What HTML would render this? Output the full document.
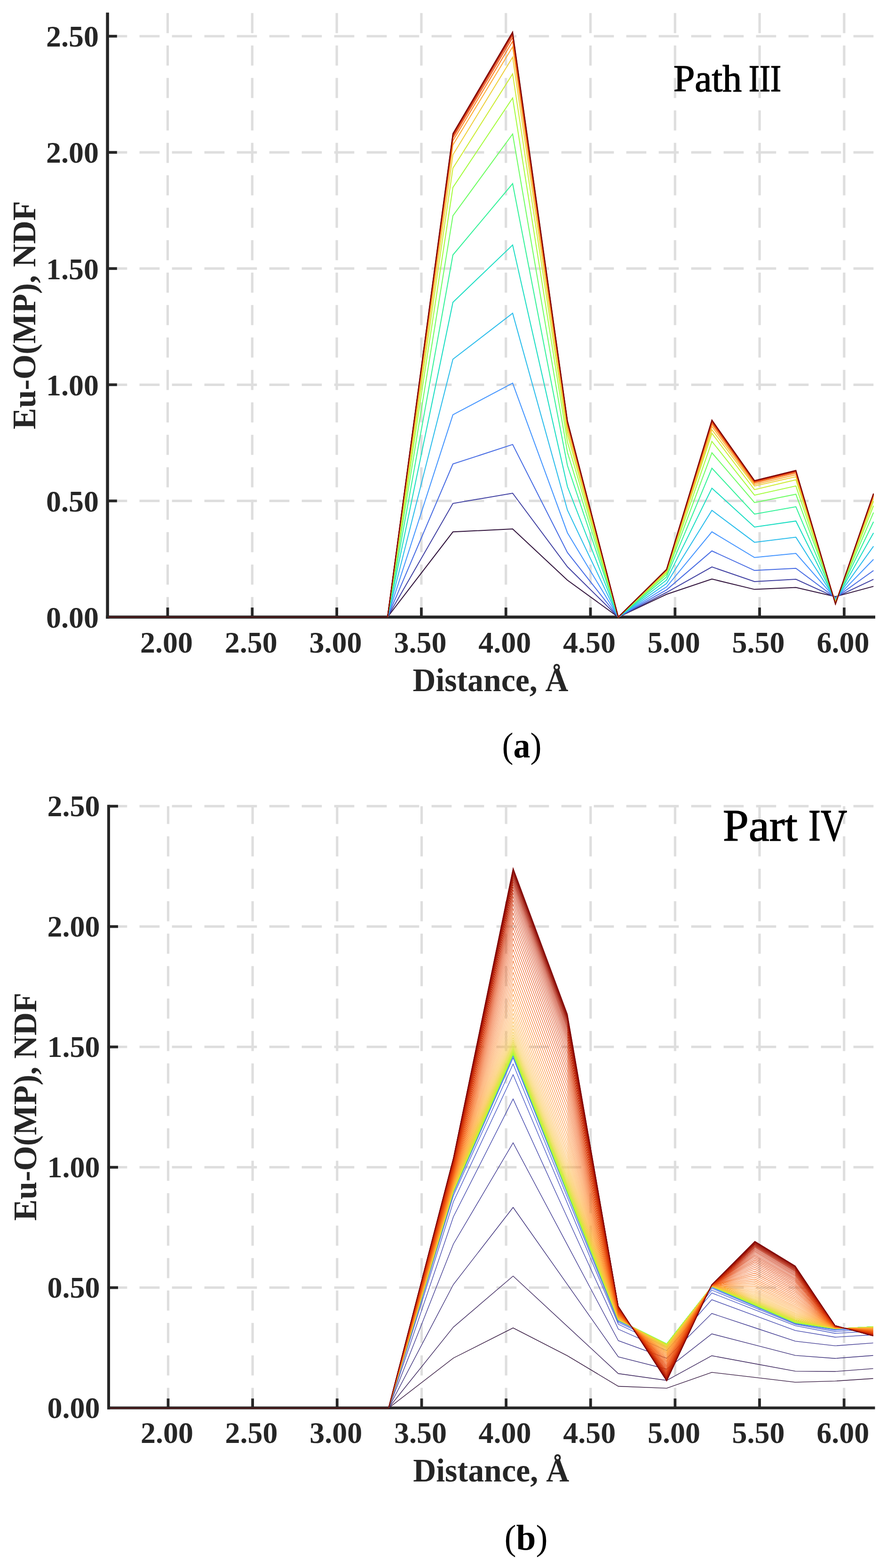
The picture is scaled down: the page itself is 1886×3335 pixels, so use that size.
<!DOCTYPE html>
<html><head><meta charset="utf-8"><title>Eu-O(MP) NDF</title><style>html,body{margin:0;padding:0;background:#fff;}svg{display:block;}</style></head><body>
<svg xmlns="http://www.w3.org/2000/svg" width="1886" height="3335" viewBox="0 0 1886 3335">
<rect x="0" y="0" width="1886" height="3335" fill="#ffffff"/>
<g stroke="#dedede" stroke-width="5.2" stroke-dasharray="42.7 26.3" fill="none"><line x1="356.5" y1="1312.4" x2="356.5" y2="27.0"/><line x1="536.3" y1="1312.4" x2="536.3" y2="27.0"/><line x1="716.1" y1="1312.4" x2="716.1" y2="27.0"/><line x1="895.9" y1="1312.4" x2="895.9" y2="27.0"/><line x1="1075.7" y1="1312.4" x2="1075.7" y2="27.0"/><line x1="1255.5" y1="1312.4" x2="1255.5" y2="27.0"/><line x1="1435.3" y1="1312.4" x2="1435.3" y2="27.0"/><line x1="1615.1" y1="1312.4" x2="1615.1" y2="27.0"/><line x1="1794.9" y1="1312.4" x2="1794.9" y2="27.0"/><line x1="227.6" y1="1065.4" x2="1858.0" y2="1065.4"/><line x1="227.6" y1="818.3" x2="1858.0" y2="818.3"/><line x1="227.6" y1="571.2" x2="1858.0" y2="571.2"/><line x1="227.6" y1="324.1" x2="1858.0" y2="324.1"/><line x1="227.6" y1="77.0" x2="1858.0" y2="77.0"/></g>
<g stroke="#262626" stroke-width="6.5" fill="none"><line x1="228.6" y1="26.8" x2="228.6" y2="1315.7"/><line x1="225.3" y1="1312.4" x2="1861.0" y2="1312.4"/><line x1="356.5" y1="1312.4" x2="356.5" y2="1292.2" stroke-width="5.8"/><line x1="536.3" y1="1312.4" x2="536.3" y2="1292.2" stroke-width="5.8"/><line x1="716.1" y1="1312.4" x2="716.1" y2="1292.2" stroke-width="5.8"/><line x1="895.9" y1="1312.4" x2="895.9" y2="1292.2" stroke-width="5.8"/><line x1="1075.7" y1="1312.4" x2="1075.7" y2="1292.2" stroke-width="5.8"/><line x1="1255.5" y1="1312.4" x2="1255.5" y2="1292.2" stroke-width="5.8"/><line x1="1435.3" y1="1312.4" x2="1435.3" y2="1292.2" stroke-width="5.8"/><line x1="1615.1" y1="1312.4" x2="1615.1" y2="1292.2" stroke-width="5.8"/><line x1="1794.9" y1="1312.4" x2="1794.9" y2="1292.2" stroke-width="5.8"/><line x1="228.6" y1="1065.4" x2="248.8" y2="1065.4" stroke-width="5.8"/><line x1="228.6" y1="818.3" x2="248.8" y2="818.3" stroke-width="5.8"/><line x1="228.6" y1="571.2" x2="248.8" y2="571.2" stroke-width="5.8"/><line x1="228.6" y1="324.1" x2="248.8" y2="324.1" stroke-width="5.8"/><line x1="228.6" y1="77.0" x2="248.8" y2="77.0" stroke-width="5.8"/></g>
<g font-family="Liberation Serif, serif" font-weight="bold" font-size="64" fill="#262626"><text x="210.0" y="1334.8" text-anchor="end">0.00</text><text x="210.0" y="1087.7" text-anchor="end">0.50</text><text x="210.0" y="840.6" text-anchor="end">1.00</text><text x="210.0" y="593.5" text-anchor="end">1.50</text><text x="210.0" y="346.4" text-anchor="end">2.00</text><text x="210.0" y="99.3" text-anchor="end">2.50</text><text x="354.0" y="1388.0" text-anchor="middle">2.00</text><text x="533.8" y="1388.0" text-anchor="middle">2.50</text><text x="713.6" y="1388.0" text-anchor="middle">3.00</text><text x="893.4" y="1388.0" text-anchor="middle">3.50</text><text x="1073.2" y="1388.0" text-anchor="middle">4.00</text><text x="1253.0" y="1388.0" text-anchor="middle">4.50</text><text x="1432.8" y="1388.0" text-anchor="middle">5.00</text><text x="1612.6" y="1388.0" text-anchor="middle">5.50</text><text x="1792.4" y="1388.0" text-anchor="middle">6.00</text></g>
<text x="1043.0" y="1470.0" text-anchor="middle" font-family="Liberation Serif, serif" font-weight="bold" font-size="69" fill="#262626" textLength="331.0" lengthAdjust="spacingAndGlyphs">Distance, Å</text>
<text transform="translate(74.6,670.4) rotate(-90)" x="0" y="0" text-anchor="middle" font-family="Liberation Serif, serif" font-weight="bold" font-size="69" fill="#262626" textLength="485.5" lengthAdjust="spacingAndGlyphs">Eu-O(MP), NDF</text>
<g fill="none" stroke-width="2.0" stroke-linejoin="miter" stroke-miterlimit="10"><path d="M231.5,1312.5 L824.0,1312.5 L963.0,1131.3 L1090.0,1125.0 L1206.5,1234.0 L1314.6,1312.5 L1417.3,1264.0 L1513.7,1231.6 L1604.3,1253.6 L1692.3,1249.6 L1776.4,1269.0 L1857.3,1247.1" stroke="#30123b"/><path d="M231.5,1312.5 L824.0,1312.5 L963.0,1070.8 L1090.0,1049.0 L1206.5,1205.5 L1314.6,1312.5 L1417.3,1260.0 L1513.7,1205.8 L1604.3,1236.9 L1692.3,1232.0 L1776.4,1270.4 L1857.3,1232.2" stroke="#4040a2"/><path d="M231.5,1312.5 L824.0,1312.5 L963.0,986.9 L1090.0,945.4 L1206.5,1175.1 L1314.6,1312.5 L1417.3,1254.6 L1513.7,1171.8 L1604.3,1213.3 L1692.3,1208.8 L1776.4,1271.5 L1857.3,1213.5" stroke="#466be3"/><path d="M231.5,1312.5 L824.0,1312.5 L963.0,882.2 L1090.0,814.9 L1206.5,1133.2 L1314.6,1312.5 L1417.3,1248.3 L1513.7,1131.1 L1604.3,1185.8 L1692.3,1177.0 L1776.4,1273.0 L1857.3,1189.8" stroke="#4294ff"/><path d="M231.5,1312.5 L824.0,1312.5 L963.0,764.0 L1090.0,666.3 L1206.5,1085.0 L1314.6,1312.5 L1417.3,1241.1 L1513.7,1085.4 L1604.3,1153.4 L1692.3,1142.6 L1776.4,1275.0 L1857.3,1161.8" stroke="#28bceb"/><path d="M231.5,1312.5 L824.0,1312.5 L963.0,643.0 L1090.0,521.1 L1206.5,1035.0 L1314.6,1312.5 L1417.3,1233.7 L1513.7,1038.3 L1604.3,1121.0 L1692.3,1108.2 L1776.4,1277.0 L1857.3,1133.4" stroke="#18ddc2"/><path d="M231.5,1312.5 L824.0,1312.5 L963.0,542.3 L1090.0,390.5 L1206.5,990.0 L1314.6,1312.5 L1417.3,1227.1 L1513.7,995.8 L1604.3,1093.5 L1692.3,1077.8 L1776.4,1278.0 L1857.3,1109.7" stroke="#32f298"/><path d="M231.5,1312.5 L824.0,1312.5 L963.0,458.8 L1090.0,285.0 L1206.5,962.0 L1314.6,1312.5 L1417.3,1221.9 L1513.7,963.0 L1604.3,1068.9 L1692.3,1051.2 L1776.4,1279.5 L1857.3,1090.1" stroke="#6dfe62"/><path d="M231.5,1312.5 L824.0,1312.5 L963.0,398.6 L1090.0,208.4 L1206.5,940.0 L1314.6,1312.5 L1417.3,1218.1 L1513.7,938.7 L1604.3,1053.2 L1692.3,1033.6 L1776.4,1280.5 L1857.3,1075.7" stroke="#a4fc3c"/><path d="M231.5,1312.5 L824.0,1312.5 L963.0,357.7 L1090.0,157.1 L1206.5,924.0 L1314.6,1312.5 L1417.3,1215.4 L1513.7,921.7 L1604.3,1041.4 L1692.3,1020.5 L1776.4,1281.5 L1857.3,1066.0" stroke="#cdec34"/><path d="M231.5,1312.5 L824.0,1312.5 L963.0,329.3 L1090.0,121.7 L1206.5,914.0 L1314.6,1312.5 L1417.3,1214.2 L1513.7,914.0 L1604.3,1033.7 L1692.3,1013.9 L1776.4,1282.0 L1857.3,1060.0" stroke="#eecf3a"/><path d="M231.5,1312.5 L824.0,1312.5 L963.0,308.4 L1090.0,99.7 L1206.5,906.0 L1314.6,1312.5 L1417.3,1213.1 L1513.7,907.0 L1604.3,1030.4 L1692.3,1009.8 L1776.4,1283.0 L1857.3,1056.0" stroke="#fdac34"/><path d="M231.5,1312.5 L824.0,1312.5 L963.0,299.3 L1090.0,87.8 L1206.5,901.9 L1314.6,1312.5 L1417.3,1212.3 L1513.7,901.9 L1604.3,1027.3 L1692.3,1006.3 L1776.4,1283.7 L1857.3,1053.6" stroke="#fb7e21"/><path d="M231.5,1312.5 L824.0,1312.5 L963.0,293.2 L1090.0,79.7 L1206.5,899.1 L1314.6,1312.5 L1417.3,1211.8 L1513.7,898.4 L1604.3,1025.2 L1692.3,1003.9 L1776.4,1284.1 L1857.3,1052.0" stroke="#eb500e"/><path d="M231.5,1312.5 L824.0,1312.5 L963.0,289.0 L1090.0,74.2 L1206.5,897.2 L1314.6,1312.5 L1417.3,1211.4 L1513.7,896.0 L1604.3,1023.7 L1692.3,1002.3 L1776.4,1284.4 L1857.3,1050.9" stroke="#d02f05"/><path d="M231.5,1312.5 L824.0,1312.5 L963.0,286.1 L1090.0,70.4 L1206.5,895.9 L1314.6,1312.5 L1417.3,1211.2 L1513.7,894.4 L1604.3,1022.8 L1692.3,1001.2 L1776.4,1284.7 L1857.3,1050.1" stroke="#a91601"/><path d="M231.5,1312.5 L824.0,1312.5 L963.0,284.2 L1090.0,67.9 L1206.5,895.0 L1314.6,1312.5 L1417.3,1211.0 L1513.7,893.3 L1604.3,1022.1 L1692.3,1000.5 L1776.4,1284.8 L1857.3,1049.6" stroke="#7a0403"/></g>
<g stroke="#dedede" stroke-width="5.2" stroke-dasharray="42.7 26.3" fill="none"><line x1="357.5" y1="2994.5" x2="357.5" y2="1714.7"/><line x1="537.1" y1="2994.5" x2="537.1" y2="1714.7"/><line x1="716.8" y1="2994.5" x2="716.8" y2="1714.7"/><line x1="896.5" y1="2994.5" x2="896.5" y2="1714.7"/><line x1="1076.1" y1="2994.5" x2="1076.1" y2="1714.7"/><line x1="1255.8" y1="2994.5" x2="1255.8" y2="1714.7"/><line x1="1435.4" y1="2994.5" x2="1435.4" y2="1714.7"/><line x1="1615.0" y1="2994.5" x2="1615.0" y2="1714.7"/><line x1="1794.7" y1="2994.5" x2="1794.7" y2="1714.7"/><line x1="227.6" y1="2738.7" x2="1858.0" y2="2738.7"/><line x1="227.6" y1="2482.7" x2="1858.0" y2="2482.7"/><line x1="227.6" y1="2226.7" x2="1858.0" y2="2226.7"/><line x1="227.6" y1="1970.7" x2="1858.0" y2="1970.7"/><line x1="227.6" y1="1714.7" x2="1858.0" y2="1714.7"/></g>
<g stroke="#262626" stroke-width="6.0" fill="none"><line x1="231.0" y1="1711.8" x2="231.0" y2="2997.5"/><line x1="228.0" y1="2994.5" x2="1860.5" y2="2994.5"/><line x1="357.5" y1="2994.5" x2="357.5" y2="2974.5" stroke-width="5.8"/><line x1="537.1" y1="2994.5" x2="537.1" y2="2974.5" stroke-width="5.8"/><line x1="716.8" y1="2994.5" x2="716.8" y2="2974.5" stroke-width="5.8"/><line x1="896.5" y1="2994.5" x2="896.5" y2="2974.5" stroke-width="5.8"/><line x1="1076.1" y1="2994.5" x2="1076.1" y2="2974.5" stroke-width="5.8"/><line x1="1255.8" y1="2994.5" x2="1255.8" y2="2974.5" stroke-width="5.8"/><line x1="1435.4" y1="2994.5" x2="1435.4" y2="2974.5" stroke-width="5.8"/><line x1="1615.0" y1="2994.5" x2="1615.0" y2="2974.5" stroke-width="5.8"/><line x1="1794.7" y1="2994.5" x2="1794.7" y2="2974.5" stroke-width="5.8"/><line x1="231.0" y1="2738.7" x2="251.0" y2="2738.7" stroke-width="5.8"/><line x1="231.0" y1="2482.7" x2="251.0" y2="2482.7" stroke-width="5.8"/><line x1="231.0" y1="2226.7" x2="251.0" y2="2226.7" stroke-width="5.8"/><line x1="231.0" y1="1970.7" x2="251.0" y2="1970.7" stroke-width="5.8"/><line x1="231.0" y1="1714.7" x2="251.0" y2="1714.7" stroke-width="5.8"/></g>
<g font-family="Liberation Serif, serif" font-weight="bold" font-size="64" fill="#262626"><text x="212.5" y="3015.7" text-anchor="end">0.00</text><text x="212.5" y="2759.7" text-anchor="end">0.50</text><text x="212.5" y="2503.7" text-anchor="end">1.00</text><text x="212.5" y="2247.7" text-anchor="end">1.50</text><text x="212.5" y="1991.7" text-anchor="end">2.00</text><text x="212.5" y="1735.7" text-anchor="end">2.50</text><text x="355.0" y="3069.0" text-anchor="middle">2.00</text><text x="534.6" y="3069.0" text-anchor="middle">2.50</text><text x="714.3" y="3069.0" text-anchor="middle">3.00</text><text x="894.0" y="3069.0" text-anchor="middle">3.50</text><text x="1073.6" y="3069.0" text-anchor="middle">4.00</text><text x="1253.2" y="3069.0" text-anchor="middle">4.50</text><text x="1432.9" y="3069.0" text-anchor="middle">5.00</text><text x="1612.5" y="3069.0" text-anchor="middle">5.50</text><text x="1792.2" y="3069.0" text-anchor="middle">6.00</text></g>
<text x="1044.2" y="3150.5" text-anchor="middle" font-family="Liberation Serif, serif" font-weight="bold" font-size="69" fill="#262626" textLength="332.0" lengthAdjust="spacingAndGlyphs">Distance, Å</text>
<text transform="translate(77.2,2354.0) rotate(-90)" x="0" y="0" text-anchor="middle" font-family="Liberation Serif, serif" font-weight="bold" font-size="69" fill="#262626" textLength="485.0" lengthAdjust="spacingAndGlyphs">Eu-O(MP), NDF</text>
<g fill="none" stroke-width="1.35" stroke-linejoin="miter" stroke-miterlimit="10"><path d="M234.0,2995.0 L826.0,2995.0 L964.0,2888.5 L1091.0,2824.3 L1206.5,2883.6 L1314.7,2948.5 L1417.6,2952.6 L1513.5,2918.9 L1605.0,2929.7 L1691.0,2939.8 L1775.7,2937.4 L1856.6,2932.0" stroke="#30123b"/><path d="M234.0,2995.0 L826.0,2995.0 L964.0,2822.7 L1091.0,2714.1 L1206.5,2821.2 L1314.7,2921.5 L1417.6,2936.0 L1513.5,2883.5 L1605.0,2900.5 L1691.0,2916.4 L1775.7,2917.0 L1856.6,2910.8" stroke="#351e58"/><path d="M234.0,2995.0 L826.0,2995.0 L964.0,2732.0 L1091.0,2568.0 L1206.5,2732.1 L1314.7,2885.8 L1417.6,2912.0 L1513.5,2837.0 L1605.0,2860.6 L1691.0,2882.8 L1775.7,2889.2 L1856.6,2883.0" stroke="#3a2d79"/><path d="M234.0,2995.0 L826.0,2995.0 L964.0,2646.0 L1091.0,2430.6 L1206.5,2647.9 L1314.7,2851.5 L1417.6,2889.0 L1513.5,2793.6 L1605.0,2824.0 L1691.0,2852.6 L1775.7,2862.4 L1856.6,2856.4" stroke="#3e3891"/><path d="M234.0,2995.0 L826.0,2995.0 L964.0,2588.0 L1091.0,2337.4 L1206.5,2590.2 L1314.7,2827.0 L1417.6,2872.5 L1513.5,2764.4 L1605.0,2798.2 L1691.0,2829.9 L1775.7,2844.0 L1856.6,2839.0" stroke="#4146ac"/><path d="M234.0,2995.0 L826.0,2995.0 L964.0,2556.0 L1091.0,2285.7 L1206.5,2559.8 L1314.7,2816.5 L1417.6,2865.0 L1513.5,2750.0 L1605.0,2785.9 L1691.0,2819.6 L1775.7,2836.0 L1856.6,2831.0" stroke="#4454c3"/><path d="M234.0,2995.0 L826.0,2995.0 L964.0,2543.0 L1091.0,2263.0 L1206.5,2546.7 L1314.7,2812.5 L1417.6,2861.0 L1513.5,2744.0 L1605.0,2781.4 L1691.0,2816.5 L1775.7,2832.0 L1856.6,2827.0" stroke="#455ed3"/><path d="M234.0,2995.0 L826.0,2995.0 L964.0,2538.0 L1091.0,2250.0 L1206.5,2539.1 L1314.7,2810.0 L1417.6,2860.0 L1513.5,2740.0 L1605.0,2778.7 L1691.0,2815.0 L1775.7,2829.0 L1856.6,2825.0" stroke="#466be3"/><path d="M234.0,2995.0 L826.0,2995.0 L964.0,2536.0 L1091.0,2246.0 L1206.5,2537.1 L1314.7,2808.8 L1417.6,2859.2 L1513.5,2738.0 L1605.0,2777.3 L1691.0,2814.2 L1775.7,2827.5 L1856.6,2823.5" stroke="#4778f0"/><path d="M234.0,2995.0 L826.0,2995.0 L964.0,2535.0 L1091.0,2244.0 L1206.5,2536.0 L1314.7,2808.1 L1417.6,2858.7 L1513.5,2737.0 L1605.0,2776.6 L1691.0,2813.8 L1775.7,2826.8 L1856.6,2822.8" stroke="#4687fb"/><path d="M234.0,2995.0 L826.0,2995.0 L964.0,2534.5 L1091.0,2243.0 L1206.5,2535.5 L1314.7,2807.8 L1417.6,2858.5 L1513.5,2736.5 L1605.0,2776.2 L1691.0,2813.6 L1775.7,2826.4 L1856.6,2822.4" stroke="#4294ff"/><path d="M234.0,2995.0 L826.0,2995.0 L964.0,2534.2 L1091.0,2242.5 L1206.5,2535.3 L1314.7,2807.7 L1417.6,2858.4 L1513.5,2736.2 L1605.0,2776.1 L1691.0,2813.5 L1775.7,2826.2 L1856.6,2822.2" stroke="#3aa3fc"/><path d="M234.0,2995.0 L826.0,2995.0 L964.0,2534.1 L1091.0,2242.2 L1206.5,2535.1 L1314.7,2807.6 L1417.6,2858.4 L1513.5,2736.1 L1605.0,2776.0 L1691.0,2813.5 L1775.7,2826.1 L1856.6,2822.1" stroke="#2fb2f4"/><path d="M234.0,2995.0 L826.0,2995.0 L964.0,2534.1 L1091.0,2242.1 L1206.5,2535.1 L1314.7,2807.5 L1417.6,2858.3 L1513.5,2736.1 L1605.0,2775.9 L1691.0,2813.4 L1775.7,2826.0 L1856.6,2822.0" stroke="#25c0e7"/><path d="M234.0,2995.0 L826.0,2995.0 L964.0,2534.0 L1091.0,2242.1 L1206.5,2535.0 L1314.7,2807.5 L1417.6,2858.3 L1513.5,2736.0 L1605.0,2775.9 L1691.0,2813.4 L1775.7,2826.0 L1856.6,2822.0" stroke="#1ccdd8"/><path d="M234.0,2995.0 L826.0,2995.0 L964.0,2534.0 L1091.0,2242.0 L1206.5,2535.0 L1314.7,2807.5 L1417.6,2858.3 L1513.5,2736.0 L1605.0,2775.9 L1691.0,2813.4 L1775.7,2826.0 L1856.6,2822.0" stroke="#18d9c8"/><path d="M234.0,2995.0 L826.0,2995.0 L964.0,2534.0 L1091.0,2242.0 L1206.5,2535.0 L1314.7,2807.5 L1417.6,2858.3 L1513.5,2736.0 L1605.0,2775.9 L1691.0,2813.4 L1775.7,2826.0 L1856.6,2822.0" stroke="#19e3b9"/><path d="M234.0,2995.0 L826.0,2995.0 L964.0,2534.0 L1091.0,2242.0 L1206.5,2535.0 L1314.7,2807.5 L1417.6,2858.3 L1513.5,2736.0 L1605.0,2775.9 L1691.0,2813.4 L1775.7,2826.0 L1856.6,2822.0" stroke="#22ebaa"/><path d="M234.0,2995.0 L826.0,2995.0 L964.0,2534.0 L1091.0,2242.0 L1206.5,2535.0 L1314.7,2807.5 L1417.6,2858.3 L1513.5,2736.0 L1605.0,2775.9 L1691.0,2813.4 L1775.7,2826.0 L1856.6,2822.0" stroke="#32f298"/><path d="M234.0,2995.0 L826.0,2995.0 L964.0,2534.0 L1091.0,2242.0 L1206.5,2535.0 L1314.7,2807.5 L1417.6,2858.3 L1513.5,2736.0 L1605.0,2775.9 L1691.0,2813.4 L1775.7,2826.0 L1856.6,2822.0" stroke="#43f787"/><path d="M234.0,2995.0 L826.0,2995.0 L964.0,2534.0 L1091.0,2242.0 L1206.5,2535.0 L1314.7,2807.5 L1417.6,2858.3 L1513.5,2736.0 L1605.0,2775.9 L1691.0,2813.4 L1775.7,2826.0 L1856.6,2822.0" stroke="#59fb73"/><path d="M234.0,2995.0 L826.0,2995.0 L964.0,2534.0 L1091.0,2242.0 L1206.5,2535.0 L1314.7,2807.5 L1417.6,2858.3 L1513.5,2736.0 L1605.0,2775.9 L1691.0,2813.4 L1775.7,2826.0 L1856.6,2822.0" stroke="#71fe5f"/><path d="M234.0,2995.0 L826.0,2995.0 L964.0,2534.0 L1091.0,2242.0 L1206.5,2535.0 L1314.7,2807.5 L1417.6,2858.3 L1513.5,2736.0 L1605.0,2775.9 L1691.0,2813.4 L1775.7,2826.0 L1856.6,2822.0" stroke="#88ff4e"/><path d="M234.0,2995.0 L826.0,2995.0 L964.0,2534.0 L1091.0,2242.0 L1206.5,2535.0 L1314.7,2807.5 L1417.6,2858.3 L1513.5,2736.0 L1605.0,2775.9 L1691.0,2813.4 L1775.7,2826.0 L1856.6,2822.0" stroke="#9cfe40"/><path d="M234.0,2995.0 L826.0,2995.0 L964.0,2533.6 L1091.0,2240.0 L1206.5,2533.1 L1314.7,2807.4 L1417.6,2858.7 L1513.5,2736.0 L1605.0,2775.2 L1691.0,2812.8 L1775.7,2826.0 L1856.6,2822.1" stroke="#b1f936" stroke-width="1.1"/><path d="M234.0,2995.0 L826.0,2995.0 L964.0,2533.3 L1091.0,2238.0 L1206.5,2531.1 L1314.7,2807.2 L1417.6,2859.1 L1513.5,2736.0 L1605.0,2774.5 L1691.0,2812.2 L1775.7,2825.9 L1856.6,2822.2" stroke="#b9f635" stroke-width="1.1"/><path d="M234.0,2995.0 L826.0,2995.0 L964.0,2532.9 L1091.0,2235.8 L1206.5,2529.1 L1314.7,2807.0 L1417.6,2859.5 L1513.5,2735.9 L1605.0,2773.8 L1691.0,2811.5 L1775.7,2825.9 L1856.6,2822.3" stroke="#c3f134" stroke-width="1.1"/><path d="M234.0,2995.0 L826.0,2995.0 L964.0,2532.4 L1091.0,2233.4 L1206.5,2526.8 L1314.7,2806.9 L1417.6,2860.0 L1513.5,2735.9 L1605.0,2772.9 L1691.0,2810.8 L1775.7,2825.9 L1856.6,2822.4" stroke="#cbed34" stroke-width="1.1"/><path d="M234.0,2995.0 L826.0,2995.0 L964.0,2532.0 L1091.0,2230.8 L1206.5,2524.3 L1314.7,2806.7 L1417.6,2860.5 L1513.5,2735.9 L1605.0,2772.1 L1691.0,2810.0 L1775.7,2825.8 L1856.6,2822.6" stroke="#d2e935" stroke-width="1.1"/><path d="M234.0,2995.0 L826.0,2995.0 L964.0,2531.5 L1091.0,2227.9 L1206.5,2521.5 L1314.7,2806.4 L1417.6,2861.1 L1513.5,2735.9 L1605.0,2771.0 L1691.0,2809.1 L1775.7,2825.8 L1856.6,2822.7" stroke="#d9e436" stroke-width="1.1"/><path d="M234.0,2995.0 L826.0,2995.0 L964.0,2530.9 L1091.0,2224.6 L1206.5,2518.4 L1314.7,2806.2 L1417.6,2861.8 L1513.5,2735.8 L1605.0,2769.9 L1691.0,2808.1 L1775.7,2825.7 L1856.6,2822.9" stroke="#dfdf37" stroke-width="1.1"/><path d="M234.0,2995.0 L826.0,2995.0 L964.0,2530.2 L1091.0,2220.9 L1206.5,2514.9 L1314.7,2805.9 L1417.6,2862.5 L1513.5,2735.8 L1605.0,2768.7 L1691.0,2807.0 L1775.7,2825.6 L1856.6,2823.0" stroke="#e3db38" stroke-width="1.1"/><path d="M234.0,2995.0 L826.0,2995.0 L964.0,2529.5 L1091.0,2216.8 L1206.5,2510.9 L1314.7,2805.6 L1417.6,2863.4 L1513.5,2735.8 L1605.0,2767.2 L1691.0,2805.7 L1775.7,2825.6 L1856.6,2823.2" stroke="#e9d539" stroke-width="1.1"/><path d="M234.0,2995.0 L826.0,2995.0 L964.0,2528.6 L1091.0,2212.2 L1206.5,2506.5 L1314.7,2805.3 L1417.6,2864.3 L1513.5,2735.7 L1605.0,2765.7 L1691.0,2804.3 L1775.7,2825.5 L1856.6,2823.5" stroke="#eecf3a" stroke-width="1.1"/><path d="M234.0,2995.0 L826.0,2995.0 L964.0,2527.7 L1091.0,2207.0 L1206.5,2501.6 L1314.7,2804.9 L1417.6,2865.3 L1513.5,2735.7 L1605.0,2763.9 L1691.0,2802.7 L1775.7,2825.4 L1856.6,2823.7" stroke="#f1cb3a" stroke-width="1.1"/><path d="M234.0,2995.0 L826.0,2995.0 L964.0,2526.7 L1091.0,2201.4 L1206.5,2496.2 L1314.7,2804.5 L1417.6,2866.4 L1513.5,2735.6 L1605.0,2762.0 L1691.0,2801.0 L1775.7,2825.3 L1856.6,2824.0" stroke="#f5c53a" stroke-width="1.1"/><path d="M234.0,2995.0 L826.0,2995.0 L964.0,2525.6 L1091.0,2195.2 L1206.5,2490.3 L1314.7,2804.0 L1417.6,2867.7 L1513.5,2735.6 L1605.0,2759.8 L1691.0,2799.1 L1775.7,2825.2 L1856.6,2824.3" stroke="#f7c13a" stroke-width="1.1"/><path d="M234.0,2995.0 L826.0,2995.0 L964.0,2524.3 L1091.0,2188.4 L1206.5,2483.8 L1314.7,2803.5 L1417.6,2869.0 L1513.5,2735.5 L1605.0,2757.5 L1691.0,2797.0 L1775.7,2825.1 L1856.6,2824.7" stroke="#faba39" stroke-width="1.1"/><path d="M234.0,2995.0 L826.0,2995.0 L964.0,2523.0 L1091.0,2181.0 L1206.5,2476.8 L1314.7,2803.0 L1417.6,2870.5 L1513.5,2735.4 L1605.0,2755.0 L1691.0,2794.8 L1775.7,2825.0 L1856.6,2825.0" stroke="#fbb637" stroke-width="1.1"/><path d="M234.0,2995.0 L826.0,2995.0 L964.0,2521.6 L1091.0,2173.1 L1206.5,2469.2 L1314.7,2802.4 L1417.6,2872.1 L1513.5,2735.3 L1605.0,2752.3 L1691.0,2792.4 L1775.7,2824.8 L1856.6,2825.4" stroke="#fcb136" stroke-width="1.1"/><path d="M234.0,2995.0 L826.0,2995.0 L964.0,2520.0 L1091.0,2164.6 L1206.5,2461.1 L1314.7,2801.7 L1417.6,2873.8 L1513.5,2735.3 L1605.0,2749.3 L1691.0,2789.8 L1775.7,2824.7 L1856.6,2825.8" stroke="#fea933" stroke-width="1.1"/><path d="M234.0,2995.0 L826.0,2995.0 L964.0,2518.4 L1091.0,2155.6 L1206.5,2452.5 L1314.7,2801.1 L1417.6,2875.6 L1513.5,2735.2 L1605.0,2746.2 L1691.0,2787.0 L1775.7,2824.5 L1856.6,2826.3" stroke="#fea431" stroke-width="1.1"/><path d="M234.0,2995.0 L826.0,2995.0 L964.0,2516.7 L1091.0,2146.1 L1206.5,2443.4 L1314.7,2800.4 L1417.6,2877.5 L1513.5,2735.1 L1605.0,2743.0 L1691.0,2784.1 L1775.7,2824.4 L1856.6,2826.7" stroke="#fe9e2f" stroke-width="1.1"/><path d="M234.0,2995.0 L826.0,2995.0 L964.0,2514.9 L1091.0,2136.0 L1206.5,2433.9 L1314.7,2799.6 L1417.6,2879.5 L1513.5,2735.0 L1605.0,2739.5 L1691.0,2781.1 L1775.7,2824.2 L1856.6,2827.2" stroke="#fe962b" stroke-width="1.1"/><path d="M234.0,2995.0 L826.0,2995.0 L964.0,2513.0 L1091.0,2125.6 L1206.5,2423.9 L1314.7,2798.8 L1417.6,2881.6 L1513.5,2734.9 L1605.0,2735.9 L1691.0,2777.9 L1775.7,2824.0 L1856.6,2827.8" stroke="#fe9029" stroke-width="1.1"/><path d="M234.0,2995.0 L826.0,2995.0 L964.0,2511.1 L1091.0,2114.7 L1206.5,2413.5 L1314.7,2798.0 L1417.6,2883.8 L1513.5,2734.8 L1605.0,2732.2 L1691.0,2774.5 L1775.7,2823.8 L1856.6,2828.3" stroke="#fd8a26" stroke-width="1.1"/><path d="M234.0,2995.0 L826.0,2995.0 L964.0,2509.0 L1091.0,2103.5 L1206.5,2402.8 L1314.7,2797.2 L1417.6,2886.0 L1513.5,2734.7 L1605.0,2728.4 L1691.0,2771.1 L1775.7,2823.7 L1856.6,2828.9" stroke="#fc8423" stroke-width="1.1"/><path d="M234.0,2995.0 L826.0,2995.0 L964.0,2506.9 L1091.0,2092.0 L1206.5,2391.8 L1314.7,2796.3 L1417.6,2888.3 L1513.5,2734.6 L1605.0,2724.4 L1691.0,2767.6 L1775.7,2823.5 L1856.6,2829.4" stroke="#fb7e21" stroke-width="1.1"/><path d="M234.0,2995.0 L826.0,2995.0 L964.0,2504.8 L1091.0,2080.2 L1206.5,2380.6 L1314.7,2795.4 L1417.6,2890.7 L1513.5,2734.4 L1605.0,2720.4 L1691.0,2764.0 L1775.7,2823.3 L1856.6,2830.0" stroke="#f9751d" stroke-width="1.1"/><path d="M234.0,2995.0 L826.0,2995.0 L964.0,2502.7 L1091.0,2068.2 L1206.5,2369.1 L1314.7,2794.6 L1417.6,2893.1 L1513.5,2734.3 L1605.0,2716.3 L1691.0,2760.4 L1775.7,2823.1 L1856.6,2830.6" stroke="#f76f1a" stroke-width="1.1"/><path d="M234.0,2995.0 L826.0,2995.0 L964.0,2500.5 L1091.0,2056.2 L1206.5,2357.6 L1314.7,2793.7 L1417.6,2895.5 L1513.5,2734.2 L1605.0,2712.1 L1691.0,2756.7 L1775.7,2822.9 L1856.6,2831.2" stroke="#f56918" stroke-width="1.1"/><path d="M234.0,2995.0 L826.0,2995.0 L964.0,2498.3 L1091.0,2044.0 L1206.5,2346.0 L1314.7,2792.8 L1417.6,2897.9 L1513.5,2734.1 L1605.0,2707.9 L1691.0,2752.9 L1775.7,2822.7 L1856.6,2831.8" stroke="#f36315" stroke-width="1.1"/><path d="M234.0,2995.0 L826.0,2995.0 L964.0,2496.1 L1091.0,2031.8 L1206.5,2334.4 L1314.7,2791.8 L1417.6,2900.4 L1513.5,2734.0 L1605.0,2703.8 L1691.0,2749.2 L1775.7,2822.4 L1856.6,2832.4" stroke="#f15d13" stroke-width="1.1"/><path d="M234.0,2995.0 L826.0,2995.0 L964.0,2493.9 L1091.0,2019.8 L1206.5,2322.9 L1314.7,2790.9 L1417.6,2902.8 L1513.5,2733.9 L1605.0,2699.6 L1691.0,2745.5 L1775.7,2822.2 L1856.6,2833.0" stroke="#ef5811" stroke-width="1.1"/><path d="M234.0,2995.0 L826.0,2995.0 L964.0,2491.8 L1091.0,2007.8 L1206.5,2311.4 L1314.7,2790.1 L1417.6,2905.2 L1513.5,2733.8 L1605.0,2695.5 L1691.0,2741.9 L1775.7,2822.0 L1856.6,2833.6" stroke="#ec530f" stroke-width="1.1"/><path d="M234.0,2995.0 L826.0,2995.0 L964.0,2489.7 L1091.0,1996.0 L1206.5,2300.2 L1314.7,2789.2 L1417.6,2907.6 L1513.5,2733.6 L1605.0,2691.5 L1691.0,2738.3 L1775.7,2821.8 L1856.6,2834.2" stroke="#ea4e0d" stroke-width="1.1"/><path d="M234.0,2995.0 L826.0,2995.0 L964.0,2487.6 L1091.0,1984.5 L1206.5,2289.2 L1314.7,2788.3 L1417.6,2909.9 L1513.5,2733.5 L1605.0,2687.5 L1691.0,2734.8 L1775.7,2821.6 L1856.6,2834.7" stroke="#e7490c" stroke-width="1.1"/><path d="M234.0,2995.0 L826.0,2995.0 L964.0,2485.5 L1091.0,1973.3 L1206.5,2278.5 L1314.7,2787.5 L1417.6,2912.1 L1513.5,2733.4 L1605.0,2683.7 L1691.0,2731.4 L1775.7,2821.5 L1856.6,2835.3" stroke="#e4450a" stroke-width="1.1"/><path d="M234.0,2995.0 L826.0,2995.0 L964.0,2483.6 L1091.0,1962.4 L1206.5,2268.1 L1314.7,2786.7 L1417.6,2914.3 L1513.5,2733.3 L1605.0,2680.0 L1691.0,2728.0 L1775.7,2821.3 L1856.6,2835.8" stroke="#e14109" stroke-width="1.1"/><path d="M234.0,2995.0 L826.0,2995.0 L964.0,2481.7 L1091.0,1952.0 L1206.5,2258.1 L1314.7,2785.9 L1417.6,2916.4 L1513.5,2733.2 L1605.0,2676.4 L1691.0,2724.8 L1775.7,2821.1 L1856.6,2836.4" stroke="#dd3d08" stroke-width="1.1"/><path d="M234.0,2995.0 L826.0,2995.0 L964.0,2479.9 L1091.0,1941.9 L1206.5,2248.6 L1314.7,2785.1 L1417.6,2918.4 L1513.5,2733.1 L1605.0,2672.9 L1691.0,2721.8 L1775.7,2820.9 L1856.6,2836.9" stroke="#da3907" stroke-width="1.1"/><path d="M234.0,2995.0 L826.0,2995.0 L964.0,2478.2 L1091.0,1932.4 L1206.5,2239.5 L1314.7,2784.4 L1417.6,2920.3 L1513.5,2733.0 L1605.0,2669.7 L1691.0,2718.9 L1775.7,2820.8 L1856.6,2837.3" stroke="#d63506" stroke-width="1.1"/><path d="M234.0,2995.0 L826.0,2995.0 L964.0,2476.6 L1091.0,1923.4 L1206.5,2230.9 L1314.7,2783.8 L1417.6,2922.1 L1513.5,2732.9 L1605.0,2666.6 L1691.0,2716.1 L1775.7,2820.6 L1856.6,2837.8" stroke="#d23105" stroke-width="1.1"/><path d="M234.0,2995.0 L826.0,2995.0 L964.0,2475.0 L1091.0,1914.9 L1206.5,2222.8 L1314.7,2783.1 L1417.6,2923.8 L1513.5,2732.9 L1605.0,2663.6 L1691.0,2713.5 L1775.7,2820.5 L1856.6,2838.2" stroke="#ce2d04" stroke-width="1.1"/><path d="M234.0,2995.0 L826.0,2995.0 L964.0,2473.6 L1091.0,1907.0 L1206.5,2215.2 L1314.7,2782.5 L1417.6,2925.4 L1513.5,2732.8 L1605.0,2660.9 L1691.0,2711.1 L1775.7,2820.3 L1856.6,2838.6" stroke="#ca2a04" stroke-width="1.1"/><path d="M234.0,2995.0 L826.0,2995.0 L964.0,2472.3 L1091.0,1899.6 L1206.5,2208.2 L1314.7,2782.0 L1417.6,2926.9 L1513.5,2732.7 L1605.0,2658.4 L1691.0,2708.9 L1775.7,2820.2 L1856.6,2838.9" stroke="#c52603" stroke-width="1.1"/><path d="M234.0,2995.0 L826.0,2995.0 L964.0,2471.0 L1091.0,1892.8 L1206.5,2201.7 L1314.7,2781.5 L1417.6,2928.2 L1513.5,2732.6 L1605.0,2656.1 L1691.0,2706.8 L1775.7,2820.1 L1856.6,2839.3" stroke="#c12302" stroke-width="1.1"/><path d="M234.0,2995.0 L826.0,2995.0 L964.0,2469.9 L1091.0,1886.6 L1206.5,2195.8 L1314.7,2781.0 L1417.6,2929.5 L1513.5,2732.6 L1605.0,2653.9 L1691.0,2704.9 L1775.7,2820.0 L1856.6,2839.6" stroke="#bc2002" stroke-width="1.1"/><path d="M234.0,2995.0 L826.0,2995.0 L964.0,2468.9 L1091.0,1881.0 L1206.5,2190.4 L1314.7,2780.6 L1417.6,2930.6 L1513.5,2732.5 L1605.0,2652.0 L1691.0,2703.2 L1775.7,2819.9 L1856.6,2839.9" stroke="#b71d02" stroke-width="1.1"/><path d="M234.0,2995.0 L826.0,2995.0 L964.0,2468.0 L1091.0,1875.8 L1206.5,2185.5 L1314.7,2780.2 L1417.6,2931.6 L1513.5,2732.5 L1605.0,2650.2 L1691.0,2701.6 L1775.7,2819.8 L1856.6,2840.1" stroke="#b21a01" stroke-width="1.1"/><path d="M234.0,2995.0 L826.0,2995.0 L964.0,2467.1 L1091.0,1871.2 L1206.5,2181.1 L1314.7,2779.9 L1417.6,2932.5 L1513.5,2732.4 L1605.0,2648.7 L1691.0,2700.2 L1775.7,2819.7 L1856.6,2840.4" stroke="#ac1701" stroke-width="1.1"/><path d="M234.0,2995.0 L826.0,2995.0 L964.0,2466.4 L1091.0,1867.1 L1206.5,2177.1 L1314.7,2779.6 L1417.6,2933.4 L1513.5,2732.4 L1605.0,2647.2 L1691.0,2698.9 L1775.7,2819.7 L1856.6,2840.6" stroke="#a71401" stroke-width="1.1"/><path d="M234.0,2995.0 L826.0,2995.0 L964.0,2465.7 L1091.0,1863.4 L1206.5,2173.6 L1314.7,2779.3 L1417.6,2934.1 L1513.5,2732.4 L1605.0,2646.0 L1691.0,2697.8 L1775.7,2819.6 L1856.6,2840.7" stroke="#a11201" stroke-width="1.1"/><path d="M234.0,2995.0 L826.0,2995.0 L964.0,2465.1 L1091.0,1860.1 L1206.5,2170.5 L1314.7,2779.1 L1417.6,2934.8 L1513.5,2732.3 L1605.0,2644.9 L1691.0,2696.8 L1775.7,2819.5 L1856.6,2840.9" stroke="#9e1001" stroke-width="1.1"/><path d="M234.0,2995.0 L826.0,2995.0 L964.0,2464.6 L1091.0,1857.2 L1206.5,2167.7 L1314.7,2778.8 L1417.6,2935.4 L1513.5,2732.3 L1605.0,2643.8 L1691.0,2695.9 L1775.7,2819.5 L1856.6,2841.0" stroke="#980e01" stroke-width="1.1"/><path d="M234.0,2995.0 L826.0,2995.0 L964.0,2464.2 L1091.0,1854.6 L1206.5,2165.2 L1314.7,2778.6 L1417.6,2935.9 L1513.5,2732.3 L1605.0,2643.0 L1691.0,2695.1 L1775.7,2819.4 L1856.6,2841.2" stroke="#920b01" stroke-width="1.1"/><path d="M234.0,2995.0 L826.0,2995.0 L964.0,2463.7 L1091.0,1852.2 L1206.5,2162.9 L1314.7,2778.5 L1417.6,2936.4 L1513.5,2732.3 L1605.0,2642.1 L1691.0,2694.4 L1775.7,2819.4 L1856.6,2841.3" stroke="#8b0902" stroke-width="1.1"/><path d="M234.0,2995.0 L826.0,2995.0 L964.0,2463.3 L1091.0,1850.0 L1206.5,2160.9 L1314.7,2778.3 L1417.6,2936.8 L1513.5,2732.2 L1605.0,2641.4 L1691.0,2693.7 L1775.7,2819.4 L1856.6,2841.4" stroke="#850702" stroke-width="1.1"/><path d="M234.0,2995.0 L826.0,2995.0 L964.0,2463.0 L1091.0,1848.0 L1206.5,2158.9 L1314.7,2778.1 L1417.6,2937.2 L1513.5,2732.2 L1605.0,2640.7 L1691.0,2693.1 L1775.7,2819.3 L1856.6,2841.5" stroke="#7e0502" stroke-width="1.1"/><path d="M234.0,2995.0 L826.0,2995.0 L964.0,2462.6 L1091.0,1846.0 L1206.5,2157.0 L1314.7,2778.0 L1417.6,2937.6 L1513.5,2732.2 L1605.0,2640.0 L1691.0,2692.5 L1775.7,2819.3 L1856.6,2841.6" stroke="#7a0403" stroke-width="1.1"/></g>
<g stroke="#4e1c1c" stroke-width="3" fill="none"><line x1="231.5" y1="1312.5" x2="824.0" y2="1312.5"/><line x1="234" y1="2995.0" x2="826.0" y2="2995.0"/></g>
<g font-family="Liberation Serif, serif" fill="#000" stroke="#000" stroke-width="1.4"><text x="1432" y="194" font-size="80" textLength="145" lengthAdjust="spacingAndGlyphs">Path</text><text x="1592" y="194" font-size="80" textLength="69" lengthAdjust="spacingAndGlyphs">III</text><text x="1537" y="1788" font-size="95" textLength="159" lengthAdjust="spacingAndGlyphs">Part</text><text x="1719" y="1788" font-size="95" textLength="82" lengthAdjust="spacingAndGlyphs">IV</text></g>
<text x="1109.6" y="1611" text-anchor="middle" font-family="Liberation Serif, serif" font-size="77" fill="#000" textLength="84" lengthAdjust="spacingAndGlyphs">(<tspan font-weight="bold">a</tspan>)</text>
<text x="1118.5" y="3296" text-anchor="middle" font-family="Liberation Serif, serif" font-size="77" fill="#000" textLength="92" lengthAdjust="spacingAndGlyphs">(<tspan font-weight="bold">b</tspan>)</text>
</svg>
</body></html>
